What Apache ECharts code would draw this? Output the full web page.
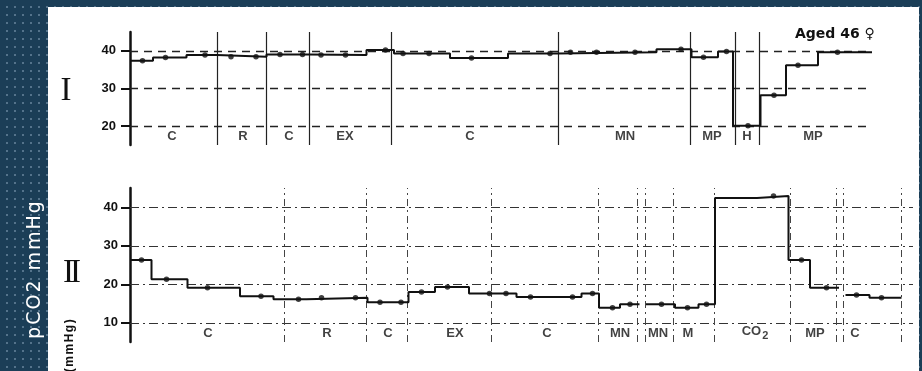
<!DOCTYPE html>
<html>
<head>
<meta charset="utf-8">
<script src="https://cdn.jsdelivr.net/npm/echarts@6/dist/echarts.min.js"></script>
<style>
  html, body { margin:0; padding:0; }
  body {
    width:922px; height:371px; overflow:hidden; position:relative;
    background-color:#1b3e57;
    background-image: radial-gradient(rgba(190,215,235,0.35) 0.8px, transparent 1.1px);
    background-size: 8px 8px;
    background-position: 3px 3px;
  }
  #paper { position:absolute; left:48px; top:7px; width:871px; height:364px; background:#fff; }
  #chart { position:absolute; left:0; top:0; width:922px; height:371px; }
  .txt { position:absolute; white-space:nowrap; transform-origin:center center; }
</style>
</head>
<body>
<div id="paper"></div>
<div id="chart"></div>
<div class="txt" id="ylab" style="left:33px; top:269px; transform:translate(-50%,-50%) rotate(-90deg); color:#fff; font:19px 'DejaVu Sans'; letter-spacing:2px;">pCO2 mmHg</div>
<div class="txt" style="left:66px; top:89px; transform:translate(-50%,-50%); color:#111; font:33px 'Liberation Serif';">I</div>
<div class="txt" style="left:70px; top:271px; transform:translate(-50%,-50%); color:#111; font:33px 'Liberation Serif'; letter-spacing:-4px;">II</div>
<div class="txt" style="left:69px; top:345px; transform:translate(-50%,-50%) rotate(-90deg); color:#111; font:bold 12px 'Liberation Sans'; letter-spacing:1.5px;">(mmHg)</div>
<script>
// ---------- Panel I ----------
const topTicks = [20, 30, 40];
const topEdges = [0, 4.6, 11.3, 17.4, 27.3, 35.8, 47.3, 52.8, 64, 75.6, 85.6, 105.3, 112.3, 117.6, 120.6, 126.1, 131.2, 137.6, 148.4];
const topLevels = [37.4, 38.2, 38.9, 38.4, 39.0, 38.9, 40.2, 39.3, 38.1, 39.3, 39.6, 40.4, 38.3, 39.8, 20.1, 28.2, 36.2, 39.6];
const topDotX = [2.5, 7.1, 15, 20.2, 25.2, 30, 34.5, 38.2, 43.1, 51.1, 54.6, 59.8, 68.3, 84, 88.1, 93.3, 101, 110.2, 114.7, 119.3, 123.6, 128.8, 133.6, 141.5];
const topDotY = [37.4, 38.2, 38.9, 38.4, 38.4, 39.0, 39.0, 38.9, 38.9, 40.2, 39.3, 39.3, 38.1, 39.3, 39.6, 39.6, 39.6, 40.4, 38.3, 39.8, 20.1, 28.2, 36.2, 39.6];
const topSeps = [17.5, 27.3, 35.8, 52.3, 85.6, 112, 121, 125.8];
const topLabels = ['C', 'R', 'C', 'EX', 'C', 'MN', 'MP', 'H', 'MP'];
const topLabelX = [8.4, 22.6, 31.8, 43, 68, 99, 116.4, 123.4, 136.6];
const topLabelY = 17.2;

// ---------- Panel II ----------
const botTicks = [10, 20, 30, 40];
const botStart = [0, 4.3, 11.5, 22, 28.7, 35.3, 47.5, 55.7, 61, 67.8, 77.3, 90.3, 93.8, 98, 103.2, 109, 113.7, 117, 125.4, 131.7, 136, 143.1, 147.9];
const botEnd   = [4.3, 11.5, 22, 28.7, 35.3, 47.5, 55.7, 61, 67.8, 77.3, 90.3, 93.8, 98, 101.9, 109, 113.7, 117, 125.4, 131.7, 136, 141.8, 147.9, 154.3];
const botVal   = [26.3, 21.3, 19.1, 16.9, 16.1, 16.5, 15.3, 18.0, 19.3, 17.6, 16.7, 17.6, 13.9, 14.8, 14.8, 13.9, 14.8, 42.4, 42.9, 26.3, 19.1, 17.2, 16.5];
const botDotX = [2.3, 7.3, 15.5, 26.2, 33.7, 38.3, 45.1, 50, 54.2, 58.3, 63.5, 71.9, 75.2, 80.1, 88.5, 92.5, 96.5, 100, 106.3, 111.5, 115.3, 128.7, 134.3, 139.3, 145.3, 150.3];
const botDotY = [26.3, 21.3, 19.1, 16.9, 16.1, 16.5, 16.5, 15.3, 15.3, 18.0, 19.3, 17.6, 17.6, 16.7, 16.7, 17.6, 13.9, 14.8, 14.8, 13.9, 14.8, 42.9, 26.3, 19.1, 17.2, 16.5];
const botSeps = [30.9, 47.3, 55.5, 72.3, 93.7, 101.5, 103, 108.7, 116.8, 132, 141.3, 142.7, 154.2];
const botLabels = ['C', 'R', 'C', 'EX', 'C', 'MN', 'MN', 'M', 'CO₂', 'MP', 'C'];
const botLabelX = [15.6, 39.4, 51.6, 65, 83.4, 98, 105.6, 111.6, 125, 137, 145];
const botLabelY = 7.3;

const INK = '#111';

// build step polylines (split where there are gaps)
function stepRuns(starts, ends, vals) {
  const runs = [];
  let cur = [];
  for (let i = 0; i < vals.length; i++) {
    if (i > 0 && starts[i] - ends[i - 1] > 0.01) { runs.push(cur); cur = []; }
    cur.push([starts[i], vals[i]]);
    cur.push([ends[i], vals[i]]);
  }
  runs.push(cur);
  return runs;
}
const topStarts = topEdges.slice(0, -1), topEnds = topEdges.slice(1);
const topRuns = stepRuns(topStarts, topEnds, topLevels);
const botRuns = stepRuns(botStart, botEnd, botVal);

function lineSeries(runs, idx) {
  return runs.map(r => ({
    type: 'line', xAxisIndex: idx, yAxisIndex: idx, data: r, symbol: 'none',
    lineStyle: { color: INK, width: 2 }, z: 5, silent: true, animation: false
  }));
}
function dotSeries(xs, ys, idx) {
  return {
    type: 'scatter', xAxisIndex: idx, yAxisIndex: idx,
    data: xs.map((x, i) => [x, ys[i]]), symbolSize: 5.5,
    itemStyle: { color: INK }, z: 6, silent: true, animation: false
  };
}
function labelSeries(names, xs, y, idx) {
  return {
    type: 'scatter', xAxisIndex: idx, yAxisIndex: idx, symbolSize: 1,
    itemStyle: { color: 'rgba(0,0,0,0)' }, silent: true, animation: false,
    data: names.map((n, i) => ({ name: n, value: [xs[i], y] })),
    label: { show: true, position: 'inside',
      formatter: p => p.name.indexOf('₂') >= 0 ? '{a|' + p.name.replace('₂', '') + '}{s|2}' : '{a|' + p.name + '}',
      rich: {
        a: { color: INK, fontFamily: 'Liberation Sans', fontWeight: 'bold', fontSize: 13, verticalAlign: 'top' },
        s: { color: INK, fontFamily: 'Liberation Sans', fontWeight: 'bold', fontSize: 11, verticalAlign: 'bottom', padding: [5, 0, 0, 1] }
      } }
  };
}
function guideSeries(idx, hVals, vVals, hStyle, vStyle) {
  return [{
    type: 'line', xAxisIndex: idx, yAxisIndex: idx, data: [], silent: true, animation: false,
    markLine: { symbol: 'none', silent: true, animation: false, label: { show: false },
      lineStyle: hStyle, data: hVals.map(v => ({ yAxis: v })) }
  }, {
    type: 'line', xAxisIndex: idx, yAxisIndex: idx, data: [], silent: true, animation: false,
    markLine: { symbol: 'none', silent: true, animation: false, label: { show: false },
      lineStyle: vStyle, data: vVals.map(v => ({ xAxis: v })) }
  }];
}

function yAxis(idx, min, max, ticks, margin) {
  return {
    type: 'value', gridIndex: idx, min: min, max: max,
    axisLine: { show: true, lineStyle: { color: INK, width: 2.5 } },
    axisTick: { show: true, customValues: ticks, length: 9, lineStyle: { color: INK, width: 2 } },
    axisLabel: { show: true, customValues: ticks, margin: margin, color: INK,
      fontFamily: 'Liberation Sans', fontWeight: 'bold', fontSize: 13 },
    splitLine: { show: false }
  };
}

const chart = echarts.init(document.getElementById('chart'), null, { renderer: 'canvas' });
chart.setOption({
  backgroundColor: 'transparent',
  animation: false,
  grid: [
    { left: 130, top: 32, width: 742, height: 113 },
    { left: 130, top: 188, width: 783, height: 154 }
  ],
  xAxis: [
    { type: 'value', gridIndex: 0, min: 0, max: 148.4, show: false },
    { type: 'value', gridIndex: 1, min: 0, max: 156.6, show: false }
  ],
  yAxis: [ yAxis(0, 15, 45, topTicks, 14), yAxis(1, 5, 45, botTicks, 12) ],
  graphic: [{
    type: 'text', left: 795, top: 27,
    style: { text: 'Aged 46 ♀', fill: INK, font: '600 14px "DejaVu Sans"' }
  }],
  series: [
    ...guideSeries(0, topTicks, topSeps,
      { color: '#222', width: 1.3, type: [8, 6] },
      { color: '#222', width: 1.2, type: 'solid' }),
    ...guideSeries(1, botTicks, botSeps,
      { color: '#333', width: 1.1, type: [9, 4, 2, 4] },
      { color: '#444', width: 1, type: [7, 4, 2, 4] }),
    ...lineSeries(topRuns, 0),
    ...lineSeries(botRuns, 1),
    dotSeries(topDotX, topDotY, 0),
    dotSeries(botDotX, botDotY, 1),
    labelSeries(topLabels, topLabelX, topLabelY, 0),
    labelSeries(botLabels, botLabelX, botLabelY, 1)
  ]
});
</script>
</body>
</html>
